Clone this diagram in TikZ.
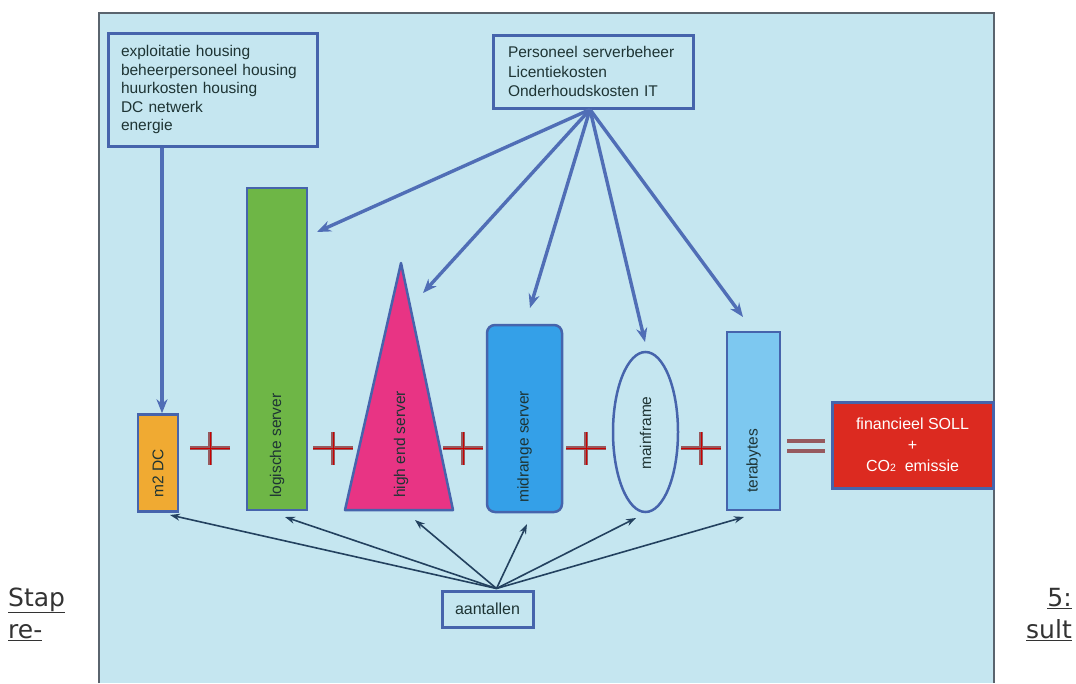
\documentclass[tikz,border=0pt]{standalone}
\usepackage{fontspec}
\setmainfont{Liberation Sans}
\newfontfamily\verdanafont{DejaVu Sans}
\usetikzlibrary{shapes.geometric,arrows.meta}

\definecolor{panelblue}{RGB}{197,230,240}
\definecolor{paneledge}{RGB}{90,100,110}
\definecolor{boxblue}{RGB}{70,100,172}
\definecolor{feedblue}{RGB}{80,110,182}
\definecolor{countdark}{RGB}{35,65,95}
\definecolor{textdark}{RGB}{30,52,52}
\definecolor{dcorange}{RGB}{240,170,50}
\definecolor{logigreen}{RGB}{110,182,70}
\definecolor{highpink}{RGB}{232,52,132}
\definecolor{midblue}{RGB}{52,160,232}
\definecolor{terablue}{RGB}{125,200,240}
\definecolor{resultred}{RGB}{220,42,32}
\definecolor{crossbrown}{RGB}{150,90,95}

\begin{document}
\begin{tikzpicture}[
		x=1pt, y=-1pt,
		every node/.style={
			font=\fontsize{15.5}{18.5}\selectfont,
			text=textdark,
			inner sep=0pt
		},
		costbox/.style={
			draw=boxblue,
			line width=3pt,
			fill=panelblue,
			align=left
		},
		serverbox/.style={
			draw=boxblue,
			line width=2.5pt
		},
		serverlabel/.style={
			rotate=90,
			anchor=west
		},
		feed/.style={
			draw=feedblue,
			line width=3.4pt,
			-{Stealth[length=14pt,width=11pt]}
		},
		count/.style={
			draw=countdark,
			line width=1.6pt,
			-{Stealth[length=10pt,width=7pt]}
		},
		caption/.style={
			font=\verdanafont\fontsize{25}{30}\selectfont,
			text=black!80
		}
		]
		\useasboundingbox (0,0) rectangle (1076,683);
		
		% Panel
		\fill[white] (0,0) rectangle (1076,683);
		\filldraw[fill=panelblue, draw=paneledge, line width=1.2pt]
		(99,683) -- (99,13) -- (994,13) -- (994,683);
		
		% Cost boxes
		\node[costbox, minimum width=209, minimum height=113, text width=183]
		(housing) at (212.5,89.5)
		{exploitatie housing\\beheerpersoneel housing\\huurkosten housing\\DC netwerk\\energie};
		\node[costbox, minimum width=200, minimum height=73, text width=170,
		font=\fontsize{15.5}{19.5}\selectfont]
		(itcost) at (593,71.5)
		{Personeel serverbeheer\\Licentiekosten\\Onderhoudskosten IT};
		
		% Servers
		\node[serverbox, fill=dcorange, minimum width=40, minimum height=97] (m2dc) at (158,463) {};
		\node[serverlabel] (m2dctext) at (158,498) {m2 DC};
		
		\node[serverbox, fill=logigreen, minimum width=60, minimum height=322] (logisch) at (277,349) {};
		\node[serverlabel] (logischtext) at (277,498) {logische server};
		
		\filldraw[fill=highpink, draw=boxblue, line width=2.5pt, line join=round]
		(345,510) -- (401,263) -- (453,510) -- cycle;
		\node[serverlabel] (highendtext) at (401,498) {high end server};
		
		\node[serverbox, fill=midblue, rounded corners=8pt, minimum width=75, minimum height=187] (midrange) at (524.5,418.5) {};
		\node[serverlabel] (midrangetext) at (524.5,503) {midrange server};
		
		\node[serverbox, ellipse, fill=panelblue, minimum width=65, minimum height=160] (mainframe) at (645.5,432) {};
		\node[rotate=90] (mainframetext) at (645.5,433) {mainframe};
		
		\node[serverbox, fill=terablue, minimum width=53, minimum height=178] (tera) at (753.5,421) {};
		\node[serverlabel] (teratext) at (753.5,493) {terabytes};
		
		% Plus and equals signs
		\foreach \x in {210,333,463,586,701}{
			\draw[crossbrown, line width=4.5pt] (\x-20,448) -- (\x+20,448);
			\draw[crossbrown, line width=4.5pt] (\x,432) -- (\x,465);
			\draw[red!80!black, line width=0.8pt] (\x-20,448) -- (\x+20,448);
			\draw[red!80!black, line width=0.8pt] (\x,432) -- (\x,465);
		}
		\foreach \y in {441,451}
		\draw[crossbrown, line width=3.5pt] (787,\y) -- (825,\y);
		
		% Result
		\node[draw=boxblue, line width=3pt, fill=resultred, text=white, align=center,
		minimum width=161, minimum height=86, font=\fontsize{16}{21}\selectfont]
		(result) at (912.5,445)
		{financieel SOLL\\+\\CO{\fontsize{10.5}{10}\selectfont 2}\ \ emissie};
		
		% Counts
		\node[draw=boxblue, line width=3pt, fill=panelblue, minimum width=91, minimum height=36,
		font=\fontsize{16}{18}\selectfont]
		(aantal) at (487.5,609) {aantallen};
		
		% Arrow tips
		\coordinate (feedlogisch) at (317,232);
		\coordinate (feedhighend) at (423,293);
		\coordinate (feedmidrange) at (530,308);
		\coordinate (feedmainframe) at (645,342);
		\coordinate (feedtera) at (743,317);
		
		\coordinate (countm2dc) at (170,515);
		\coordinate (countlogisch) at (285,517);
		\coordinate (counthighend) at (415,520);
		\coordinate (countmidrange) at (527,524);
		\coordinate (countmainframe) at (636,518);
		\coordinate (counttera) at (744,517);
		
		% Arrows
		\draw[feed] ([xshift=-50.5pt]housing.south) -- ([xshift=4pt]m2dc.north);
		\foreach \t in {logisch,highend,midrange,mainframe,tera}
		\draw[feed] ([xshift=-3pt]itcost.south) -- (feed\t);
		\foreach \t in {m2dc,logisch,highend,midrange,mainframe,tera}
		\draw[count] ([xshift=9pt,yshift=1pt]aantal.north) -- (count\t);
		
		% Caption
		\node[caption, anchor=base west] (stap) at (8,606) {\underline{Stap}};
		\node[caption, anchor=base west] (re) at (8,638) {\underline{re-}};
		\node[caption, anchor=base east] (vijf) at (1072,606) {\underline{5:}};
		\node[caption, anchor=base east] (sult) at (1072,638) {\underline{sult}};
	\end{tikzpicture}
\end{document}
